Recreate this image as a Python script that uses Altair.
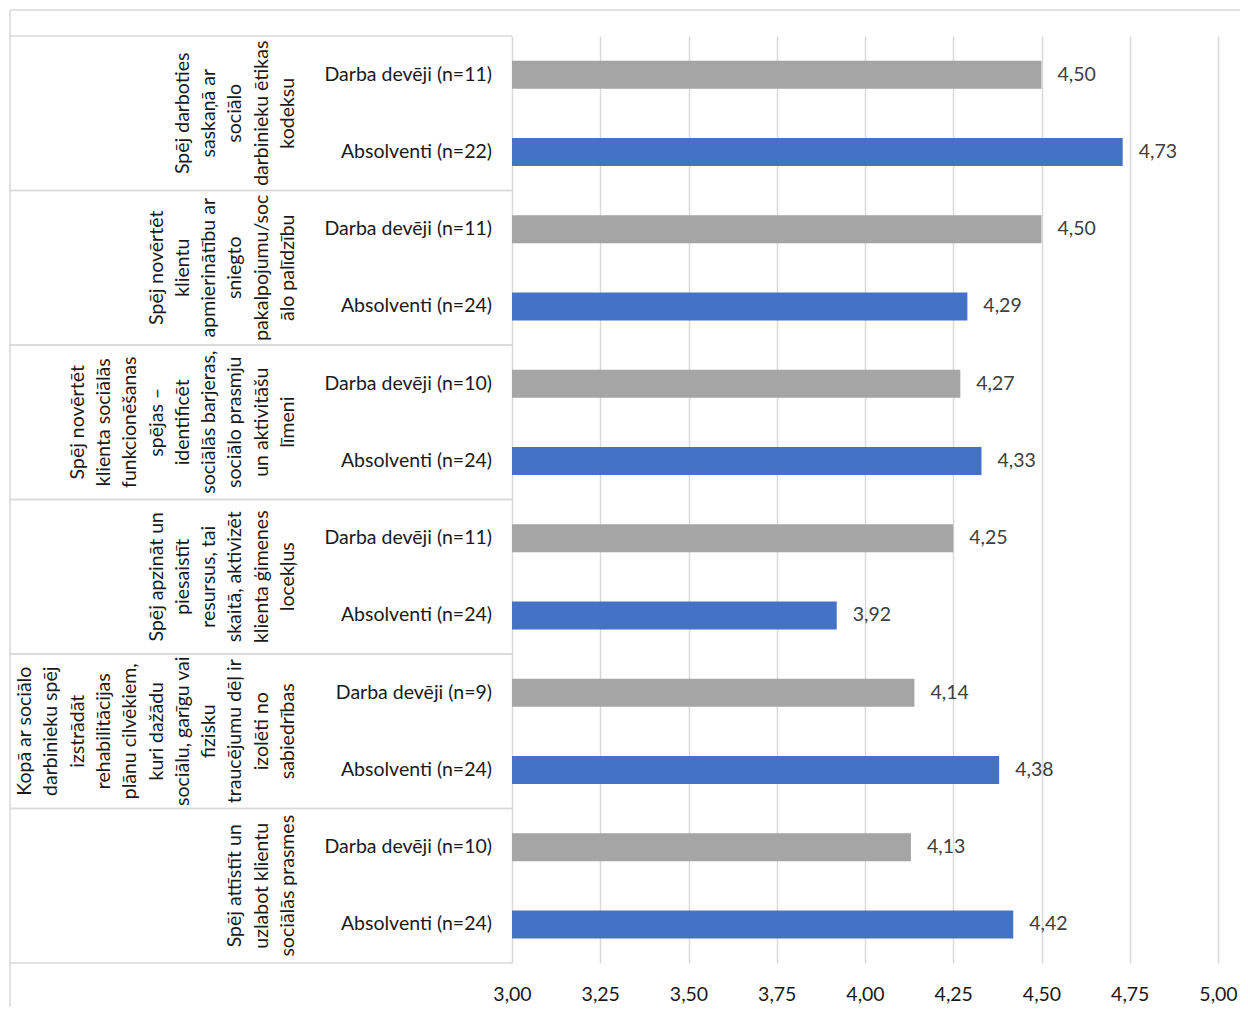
import altair as alt
import pandas as pd

# ---- data ----
group_labels = [
    ["Spēj darboties", "saskaņā ar", "sociālo", "darbinieku ētikas", "kodeksu"],
    ["Spēj novērtēt", "klientu", "apmierinātību ar", "sniegto", "pakalpojumu/soc", "ālo palīdzību"],
    ["Spēj novērtēt", "klienta  sociālās", "funkcionēšanas", "spējas –", "identificēt",
     "sociālās barjeras,", "sociālo prasmju", "un aktivitāšu", "līmeni"],
    ["Spēj apzināt un", "piesaistīt", "resursus, tai", "skaitā, aktivizēt", "klienta ģimenes", "locekļus"],
    ["Kopā ar sociālo", "darbinieku spēj", "izstrādāt", "rehabilitācijas", "plānu cilvēkiem,",
     "kuri dažādu", "sociālu, garīgu vai", "fizisku", "traucējumu dēļ ir", "izolēti no", "sabiedrības"],
    ["Spēj attīstīt un", "uzlabot klientu", "sociālās prasmes"],
]
series_names = ["Darba devēji", "Absolventi"]
darba_n = [11, 11, 10, 11, 9, 10]
abs_n = [22, 24, 24, 24, 24, 24]
darba_vals = [4.50, 4.50, 4.27, 4.25, 4.14, 4.13]
abs_vals = [4.73, 4.29, 4.33, 3.92, 4.38, 4.42]
tick_values = [3.00, 3.25, 3.50, 3.75, 4.00, 4.25, 4.50, 4.75, 5.00]
axis_min = 3.0
axis_max = 5.0

# ---- build tables ----
rows = []
for g in range(len(group_labels)):
    for s, (name, ns, vals) in enumerate(zip(series_names, [darba_n, abs_n], [darba_vals, abs_vals])):
        v = vals[g]
        rows.append({
            "key": f"{g}_{s}",
            "group": g,
            "series": name,
            "cat": f"{name} (n={ns[g]})",
            "value": v,
            "base": axis_min,
            "vlabel": f"{v:.2f}".replace(".", ","),
        })
df = pd.DataFrame(rows)
order = list(df["key"])

# one row per label line; k = how many lines before the last one
line_rows = []
for g, lines in enumerate(group_labels):
    n = len(lines)
    for i, t in enumerate(lines):
        line_rows.append({"key": f"{g}_0", "line": t, "k": n - 1 - i})
lines_df = pd.DataFrame(line_rows)
max_k = max(len(l) for l in group_labels) - 1

top_df = pd.DataFrame({"key": [f"{g}_0" for g in range(len(group_labels))]})
bottom_df = pd.DataFrame({"key": [f"{g}_1" for g in range(len(group_labels))]})
first_df = pd.DataFrame({"key": [order[0]]})

FONT = "Lato"
FS = 19.5
GRID = "#D9D9D9"
H = 927
HALF_ROW = H / len(order) / 2
LH = 26.3

yscale = alt.Scale(domain=order, paddingInner=0, paddingOuter=0)
xscale = alt.Scale(domain=[axis_min, axis_max], zero=False, nice=False)

bars = alt.Chart(df).mark_bar(size=28).encode(
    x=alt.X("value:Q", scale=xscale,
            axis=alt.Axis(values=tick_values, grid=True, gridColor=GRID, gridWidth=1.5,
                          domain=False, ticks=False, title=None, labelPadding=22,
                          labelFlush=False,
                          labelFont=FONT, labelFontSize=FS, labelColor="#1a1a1a",
                          labelExpr="replace(format(datum.value, '.2f'), '.', ',')")),
    x2="base:Q",
    y=alt.Y("key:N", scale=yscale, axis=None),
    color=alt.Color("series:N",
                    scale=alt.Scale(domain=series_names, range=["#A5A5A5", "#4472C4"]),
                    legend=None),
)

value_labels = alt.Chart(df).mark_text(
    align="left", baseline="middle", dx=16, font=FONT, fontSize=FS, color="#404040"
).encode(
    x=alt.X("value:Q", scale=xscale),
    y=alt.Y("key:N", scale=yscale, axis=None),
    text="vlabel:N",
)

cat_labels = alt.Chart(df).mark_text(
    align="right", baseline="middle", font=FONT, fontSize=FS, color="#1a1a1a"
).encode(
    x=alt.value(-20),
    y=alt.Y("key:N", scale=yscale, axis=None),
    text="cat:N",
)

group_text = alt.Chart(lines_df).mark_text(
    align="center", baseline="bottom", angle=270, font=FONT, fontSize=FS,
    color="#1a1a1a", yOffset=HALF_ROW
).encode(
    x=alt.value(-214),
    xOffset=alt.XOffset("k:Q", scale=alt.Scale(domain=[0, max_k], range=[0, -max_k * LH])),
    y=alt.Y("key:N", scale=yscale, axis=None),
    text="line:N",
)

sep_top = alt.Chart(top_df).mark_rule(color=GRID, strokeWidth=1.5, yOffset=-HALF_ROW).encode(
    x=alt.value(-502), x2=alt.value(0),
    y=alt.Y("key:N", scale=yscale, axis=None),
)
sep_bottom = alt.Chart(bottom_df).mark_rule(color=GRID, strokeWidth=1.5, yOffset=HALF_ROW).encode(
    x=alt.value(-502), x2=alt.value(0),
    y=alt.Y("key:N", scale=yscale, axis=None),
)

# outer chart frame (top and left edges; right/bottom run off the picture)
frame_top = alt.Chart(first_df).mark_rule(color=GRID, strokeWidth=1.5,
                                          yOffset=-HALF_ROW - 26).encode(
    x=alt.value(-502), x2=alt.value(760),
    y=alt.Y("key:N", scale=yscale, axis=None),
)
frame_left = alt.Chart(first_df).mark_rule(color=GRID, strokeWidth=1.5,
                                           yOffset=-HALF_ROW - 26).encode(
    x=alt.value(-502),
    y=alt.Y("key:N", scale=yscale, axis=None),
    y2=alt.value(1100),
)

chart = alt.layer(frame_top, frame_left, sep_top, sep_bottom, bars, value_labels,
                  cat_labels, group_text).properties(
    width=706, height=H,
    autosize=alt.AutoSizeParams(type="none"),
    padding={"left": 504, "top": 28, "right": 22, "bottom": 44},
).configure_view(strokeWidth=0)

chart.save("out.html", embed_options={"renderer": "svg", "actions": False})
